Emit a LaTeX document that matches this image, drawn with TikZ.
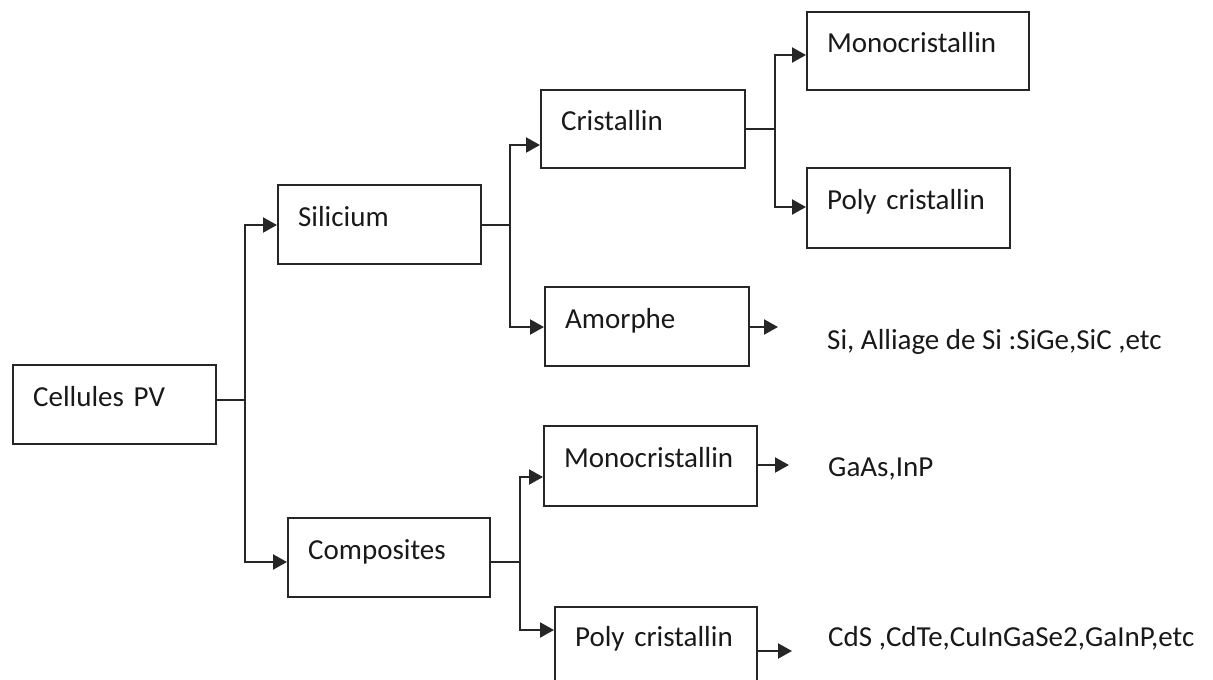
\documentclass[tikz,border=0pt]{standalone}
\usepackage{fontspec}
\setmainfont{Carlito}
\usetikzlibrary{arrows.meta}
\begin{document}
\begin{tikzpicture}[x=1pt,y=-1pt,
  every node/.style={font=\fontsize{29}{34}\selectfont, text=black!90},
  box/.style={draw=black!85, line width=2.3pt, rectangle, anchor=north west,
    inner xsep=20pt, inner ysep=0pt, align=left, text height=14pt, text depth=11pt},
  conn/.style={draw=black!85, line width=2.1pt},
  arr/.style={conn, -{Triangle[length=14pt,width=15pt]}},
  lbl/.style={anchor=base west, inner sep=0pt}]
\useasboundingbox (0,0) rectangle (1213,680);
% boxes
\node[box, minimum width=203pt, minimum height=79pt, text width=163pt] (cel) at (12,364) {Cellules PV};
\node[box, minimum width=203pt, minimum height=79pt, text width=163pt] (sil) at (277,184) {Silicium};
\node[box, minimum width=202pt, minimum height=79pt, text width=162pt] (com) at (287,517) {Composites};
\node[box, minimum width=204pt, minimum height=78pt, text width=164pt] (cri) at (540,89) {Cristallin};
\node[box, minimum width=204pt, minimum height=79pt, text width=164pt] (amo) at (544,286) {Amorphe};
\node[box, minimum width=222pt, minimum height=78pt, text width=182pt] (mo1) at (806,11) {Monocristallin};
\node[box, minimum width=203pt, minimum height=80pt, text width=163pt] (po1) at (806,167) {Poly cristallin};
\node[box, minimum width=213pt, minimum height=80pt, text width=173pt] (mo2) at (543,425) {Monocristallin};
\node[box, minimum width=202pt, minimum height=76pt, text width=162pt] (po2) at (554,606) {Poly cristallin};
% side texts
\node[lbl] (t1) at (827,349) {Si, Alliage de Si :SiGe,SiC ,etc};
\node[lbl] (t2) at (828,476) {GaAs,InP};
\node[lbl] (t3) at (828,646) {CdS ,CdTe,CuInGaSe2,GaInP,etc};
% junction coordinates
\coordinate (j1) at (245,400);
\coordinate (j2) at (510,225);
\coordinate (j3) at (775,129);
\coordinate (j4) at (520,562);
\coordinate (ysil) at (0,225);
\coordinate (ycom) at (0,562);
\coordinate (ycri) at (0,145);
\coordinate (yamo) at (0,327);
\coordinate (ymo1) at (0,55);
\coordinate (ypo1) at (0,207);
\coordinate (ymo2) at (0,477);
\coordinate (ypo2) at (0,630);
\coordinate (e1) at (778,327);
\coordinate (e2) at (789,465);
\coordinate (e3) at (792,651);
% connectors
\draw[conn] (cel.east |- j1) -- (j1);
\draw[arr] (j1) |- (sil.west |- ysil);
\draw[arr] (j1) |- (com.west |- ycom);
\draw[conn] (sil.east |- j2) -- (j2);
\draw[arr] (j2) |- (cri.west |- ycri);
\draw[arr] (j2) |- (amo.west |- yamo);
\draw[conn] (cri.east |- j3) -- (j3);
\draw[arr] (j3) |- (mo1.west |- ymo1);
\draw[arr] (j3) |- (po1.west |- ypo1);
\draw[conn] (com.east |- j4) -- (j4);
\draw[arr] (j4) |- (mo2.west |- ymo2);
\draw[arr] (j4) |- (po2.west |- ypo2);
\draw[arr] (amo.east |- e1) -- (e1);
\draw[arr] (mo2.east |- e2) -- (e2);
\draw[arr] (po2.east |- e3) -- (e3);
\end{tikzpicture}
\end{document}
